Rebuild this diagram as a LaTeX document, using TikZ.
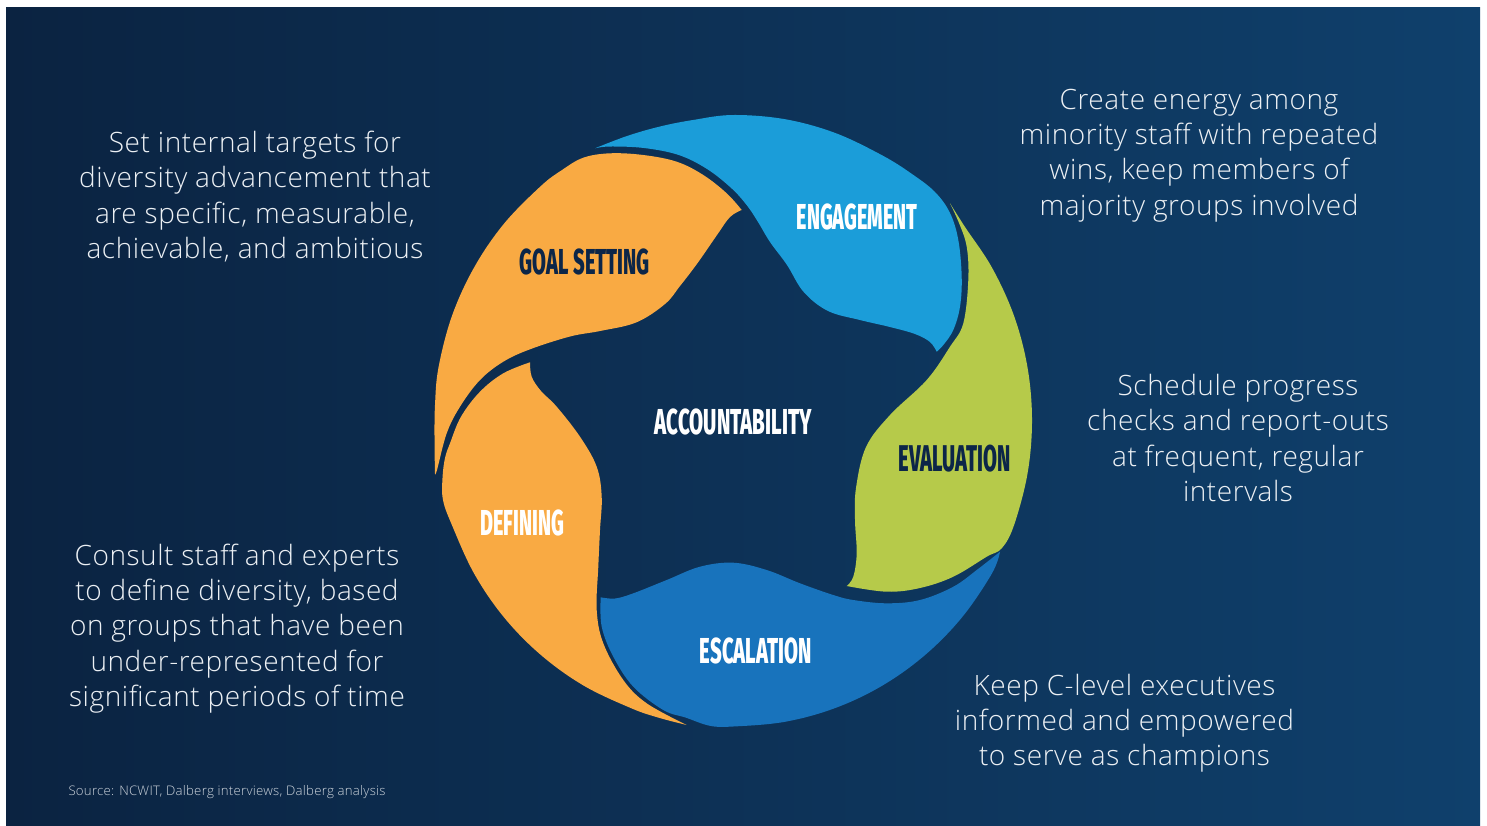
\documentclass[tikz,border=0pt]{standalone}
\usepackage{fontspec}
\usepackage{graphicx}
\IfFontExistsTF{Open Sans Light}{\setmainfont{Open Sans Light}[LetterSpace=2]}{\setmainfont{Open Sans}}
\IfFontExistsTF{Fira Sans ExtraBold}{\newfontfamily\labelfont{Fira Sans ExtraBold}}{%
  \IfFontExistsTF{Fira Sans Black}{\newfontfamily\labelfont{Fira Sans Black}}{%
    \newfontfamily\labelfont{Fira Sans Bold}[FakeBold=1.5]}}
\definecolor{bgL}{RGB}{11,35,65}
\definecolor{bgR}{RGB}{15,64,108}
\definecolor{engblue}{RGB}{27,157,217}
\definecolor{evalgreen}{RGB}{182,202,74}
\definecolor{escblue}{RGB}{24,115,188}
\definecolor{goldc}{RGB}{249,170,67}
\definecolor{navytext}{RGB}{12,38,72}
\definecolor{bodytext}{RGB}{236,240,244}
\definecolor{srctext}{RGB}{205,212,220}
\newcommand{\seglab}[3]{\resizebox{#2pt}{#3pt}{\labelfont #1}}
\begin{document}
\begin{tikzpicture}[x=1pt,y=-1pt,
  body/.style={text=bodytext, align=center, inner sep=0pt, font=\fontsize{28}{35.2}\selectfont},
  lab/.style={inner sep=0pt}]
\useasboundingbox (0,0) rectangle (1487,825);
\fill[white] (0,0) rectangle (1487,825);
\shade[left color=bgL, right color=bgR] (6,7) rectangle (1480,825);

% Engagement
\fill[engblue] plot[smooth,tension=0.6] coordinates {(595,148.3) (627,136) (660,126.5) (693,120) (733,115) (785,119.2) (835.3,133) (882.5,155.5) (912,174) (935,192) (950,213) (958.3,240) (961.7,276.7) (960,306.7) (953.3,330) (943.3,345) (936.7,351.7)}
 -- plot[smooth,tension=0.6] coordinates {(936.7,351.7) (930,342) (915,334) (890,327) (860,320) (828,311) (803.7,292) (787,265) (770,242) (758,222) (747,205.5) (731.5,188.3) (707,169) (678.7,155) (644,148) (610,146.5) (595,148.3)} -- cycle;

% Goal setting
\fill[goldc] plot[smooth,tension=0.6] coordinates {(435,474) (434.5,440) (435,405) (438.5,367.4) (452,315.8) (474.1,267.5) (503.9,223.8) (540.8,186.1) (562,170) (583.3,157.7) (610,153.3) (643.3,155) (676.7,161.7) (703.3,175) (726.7,193.3) (741.7,210)}
 -- plot[smooth,tension=0.6] coordinates {(741.7,210) (730,217) (717,235) (697.6,263) (680,286) (665,304) (636.3,322.4) (600,331) (570,336.5) (530,349.3) (503.3,361.7) (480,380) (460,406.7) (446.7,433.3) (437,470) (435,474)} -- cycle;

% Defining
\fill[goldc] plot[smooth,tension=0.6] coordinates {(686.7,725) (658,717.5) (630.7,708) (583.5,685.5) (540.8,654.9) (503.9,617.2) (474.1,573.5) (452,525.2) (443,500) (442.5,478) (445,458) (450,443.3) (461,416.7) (480,391.7) (503.3,373.3) (530,362.3)}
 -- plot[smooth,tension=0.6] coordinates {(530,362.3) (531.7,376.7) (541,391) (556.7,406.7) (580,436.7) (596.7,466.7) (601.7,496.7) (600,530) (598.3,566.7) (596.7,610) (603.3,643.3) (623.3,680) (646.7,703.3) (686.7,725)} -- cycle;

% Escalation
\fill[escblue] plot[smooth,tension=0.6] coordinates {(1000,551.7) (991.9,573.5) (962.1,617.2) (925.2,654.9) (882.5,685.5) (835.3,708) (784.9,721.8) (733,726.5) (710,725.8) (686,717.7) (663.3,710) (633.3,686.7) (613.3,656.7) (601.7,626.7) (600.7,597.3)}
 -- plot[smooth,tension=0.6] coordinates {(600.7,597.3) (615,598.5) (633.3,593.3) (666.7,580) (700,566.7) (733.3,562.7) (766.7,570) (800,583.3) (833.3,595) (853.3,600) (886.7,603.3) (920,600) (953.3,586.7) (978,569) (1000,551.7)} -- cycle;

% Evaluation
\fill[evalgreen] plot[smooth,tension=0.6] coordinates {(950,203.3) (965,227) (991.9,267.5) (1014,315.8) (1027.5,367.4) (1032,420.5) (1027.5,473.6) (1014,525.2) (1001.7,548.3) (986.7,556.7) (953.3,576.7) (920,588) (886.7,591.7) (846.7,586)}
 -- plot[smooth,tension=0.6] coordinates {(846.7,586) (853.3,576.7) (856.7,553.3) (855,520) (856,488) (866,447) (890,415) (926.7,380) (950,346.7) (963.3,323.3) (968.3,280) (966.7,246.7) (959,223) (950,203.3)} -- cycle;

% segment labels
\node[lab, text=white] (lengage) at (857,216.7) {\seglab{ENGAGEMENT}{120.6}{25.7}};
\node[lab, text=navytext] (lgoal) at (584.9,261.8) {\seglab{GOAL SETTING}{130}{25.7}};
\node[lab, text=white] (lacc) at (733.3,422) {\seglab{ACCOUNTABILITY}{156.7}{25.7}};
\node[lab, text=navytext] (leval) at (954.7,458.1) {\seglab{EVALUATION}{111.8}{26.5}};
\node[lab, text=white] (ldef) at (522.2,523) {\seglab{DEFINING}{83.6}{25.7}};
\node[lab, text=white] (lesc) at (755.8,651.1) {\seglab{ESCALATION}{111.7}{25.7}};

% descriptions
\node[body] (tgoal) at (255,198.4) {Set internal targets for\strut\\diversity advancement that\\are specific, measurable,\\achievable, and ambitious\strut};
\node[body] (tengage) at (1199,155.2) {Create energy among\strut\\minority staff with repeated\\wins, keep members of\\majority groups involved\strut};
\node[body] (teval) at (1238,441.4) {Schedule progress\strut\\checks and report-outs\\at frequent, regular\\intervals\strut};
\node[body] (tdef) at (237,628.8) {Consult staff and experts\strut\\to define diversity, based\\on groups that have been\\under-represented for\\significant periods of time\strut};
\node[body] (tesc) at (1124.5,723.6) {Keep C-level executives\strut\\informed and empowered\\to serve as champions\strut};

\node[anchor=base west, inner sep=0pt, text=srctext, font=\fontsize{13.2}{16}\selectfont] (src) at (68.3,795) {Source: NCWIT, Dalberg interviews, Dalberg analysis};
\end{tikzpicture}
\end{document}
